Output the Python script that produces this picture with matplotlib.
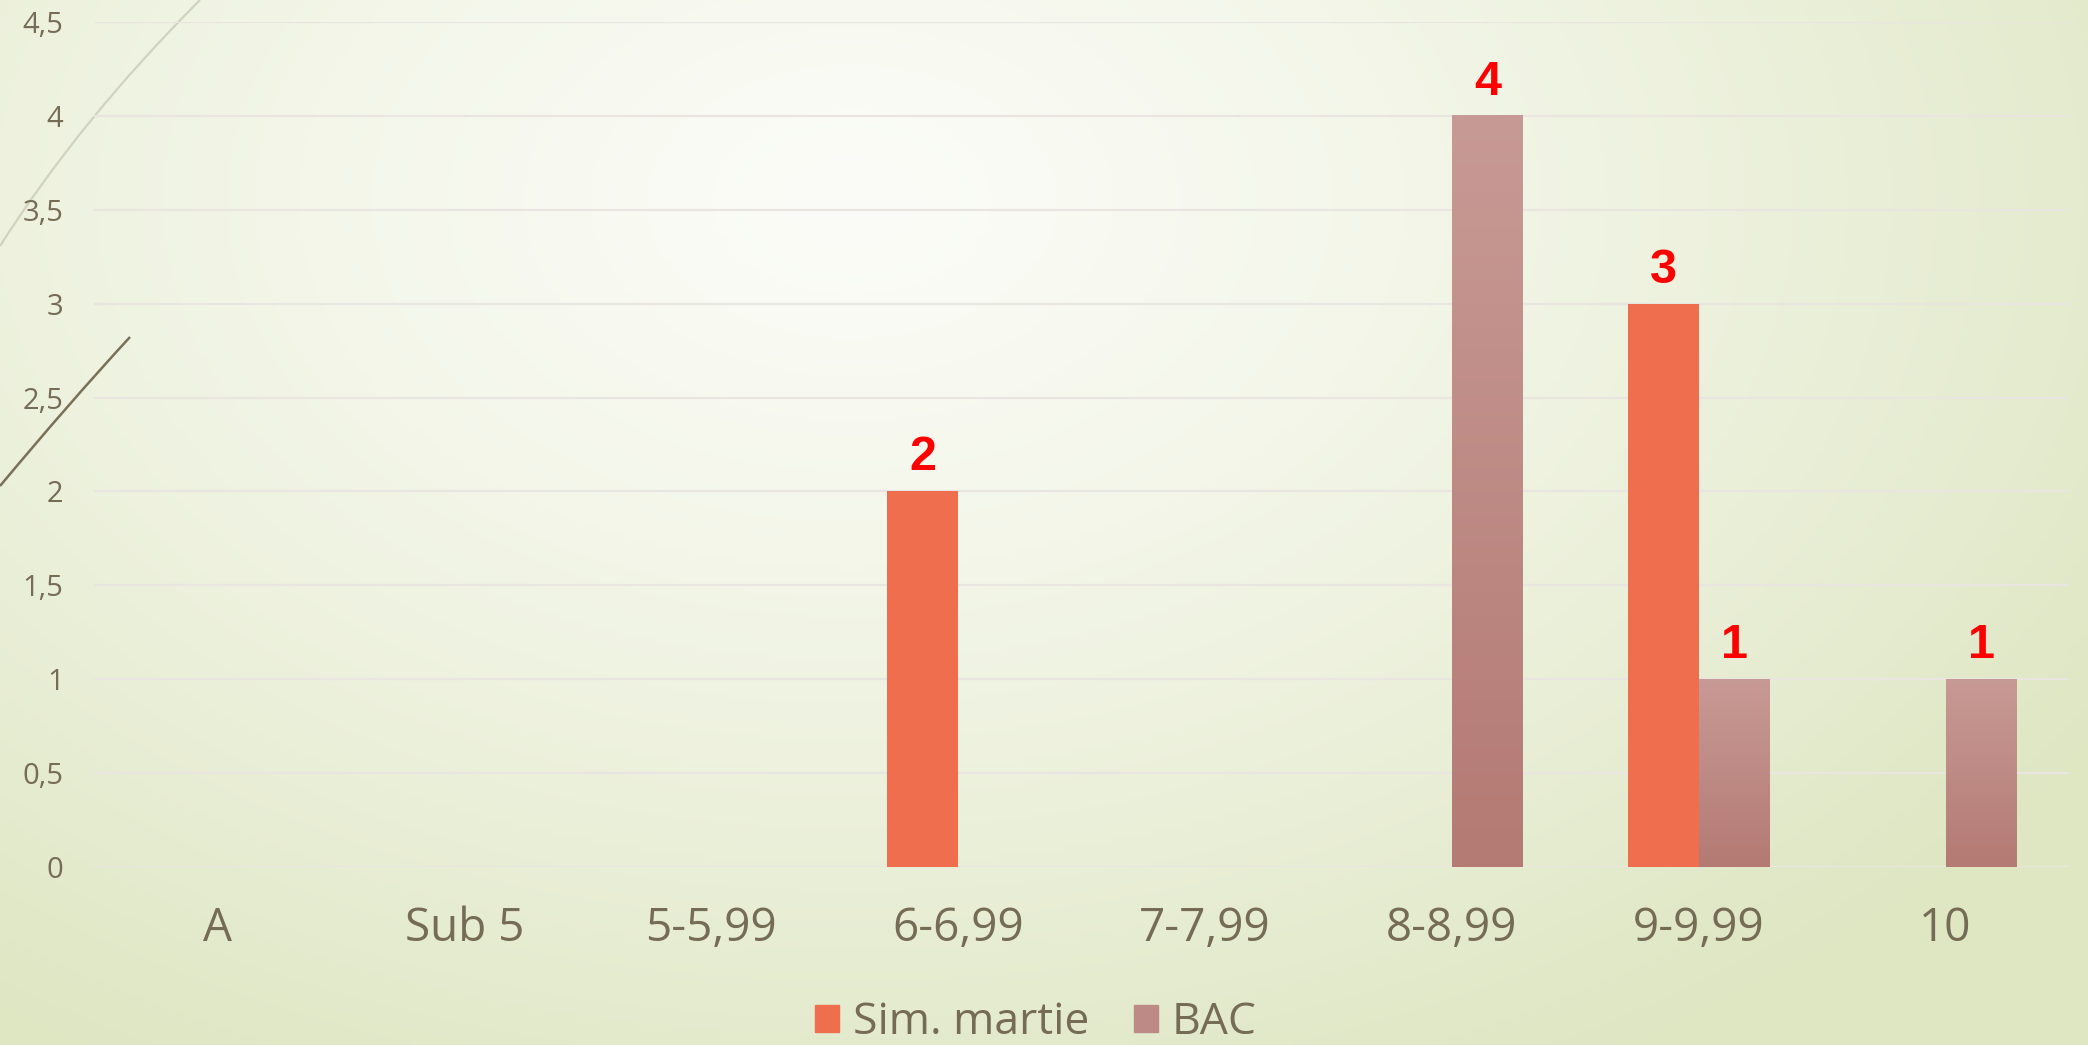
import numpy as np
import matplotlib
matplotlib.use("Agg")
import matplotlib.pyplot as plt
from matplotlib.path import Path
from matplotlib.patches import PathPatch, Patch

categories = ["A", "Sub 5", "5-5,99", "6-6,99", "7-7,99", "8-8,99", "9-9,99", "10"]
sim_martie = [0, 0, 0, 2, 0, 0, 3, 0]
bac = [0, 0, 0, 0, 0, 4, 1, 1]
yticks = [0, 0.5, 1, 1.5, 2, 2.5, 3, 3.5, 4, 4.5]
ytick_labels = ["0", "0,5", "1", "1,5", "2", "2,5", "3", "3,5", "4", "4,5"]

W, H = 2088, 1045
text_col = "#766c56"
orange = "#ee6e4d"
bac_top = np.array([200, 154, 149]) / 255
bac_bot = np.array([180, 122, 116]) / 255
font = "Open Sans"

fig = plt.figure(figsize=(W / 100, H / 100), dpi=100)

# background gradient
bg = fig.add_axes([0, 0, 1, 1], zorder=-10)
yy, xx = np.mgrid[0:H:4, 0:W:4]
d = np.sqrt(((xx - 850) / 1500) ** 2 + ((yy - 200) / 1000) ** 2)
d = np.clip(d, 0, 1) ** 1.3
light = np.array([251, 252, 247]) / 255
edge = np.array([222, 230, 194]) / 255
img = light[None, None, :] * (1 - d[..., None]) + edge[None, None, :] * d[..., None]
bg.imshow(img, extent=[0, 1, 0, 1], aspect="auto", origin="upper")
bg.axis("off")

# theme decoration curves
def curve(p0, c, p1, color, lw):
    pts = [(x / W, 1 - y / H) for x, y in (p0, c, p1)]
    path = Path(pts, [Path.MOVETO, Path.CURVE3, Path.CURVE3])
    fig.add_artist(PathPatch(path, fc="none", ec=color, lw=lw, transform=fig.transFigure, zorder=-5))

curve((0, 246), (80, 120), (200, 0), "#cfd3bf", 1.6)
curve((0, 486), (70, 402), (130, 337), "#7a7058", 1.8)

ax = fig.add_axes([94 / W, 1 - 867 / H, (2069 - 94) / W, (867 - 22) / H])
ax.patch.set_alpha(0)

x = np.arange(len(categories))
w = 0.2875
b1 = ax.bar(x - w / 2, sim_martie, w, color=orange, zorder=3)
b2 = ax.bar(x + w / 2, bac, w, color="none", zorder=3)

grad = np.linspace(0, 1, 256)[:, None, None]
grad_img = bac_top[None, None, :] * (1 - grad) + bac_bot[None, None, :] * grad
for r in b2:
    h = r.get_height()
    if h > 0:
        ax.imshow(grad_img, extent=[r.get_x(), r.get_x() + r.get_width(), 0, h],
                  aspect="auto", origin="upper", zorder=3)

for bars, vals in ((b1, sim_martie), (b2, bac)):
    for r, v in zip(bars, vals):
        if v > 0:
            ax.annotate(str(v), (r.get_x() + r.get_width() / 2, v), xytext=(0, 8),
                        textcoords="offset points", ha="center", va="bottom",
                        color="#ff0000", fontsize=35, fontweight="bold",
                        family="Liberation Sans", zorder=5)

ax.set_xlim(-0.5, len(categories) - 0.5)
ax.set_ylim(0, 4.5)
ax.set_yticks(yticks)
ax.set_yticklabels(ytick_labels)
ax.set_xticks(x)
ax.set_xticklabels(categories)
ax.tick_params(axis="y", length=0, pad=22, labelsize=21, labelcolor=text_col)
ax.tick_params(axis="x", length=0, pad=28, labelsize=33, labelcolor=text_col)
for lab in ax.get_xticklabels() + ax.get_yticklabels():
    lab.set_family(font)
ax.grid(axis="y", color="#e9e6e1", lw=1.6, zorder=0)
for s in ax.spines.values():
    s.set_visible(False)

handles = [Patch(color=orange), Patch(color=(bac_top + bac_bot) / 2)]
leg = fig.legend(handles, ["Sim. martie", "BAC"], loc="center", bbox_to_anchor=(0.496, 0.021),
                 ncol=2, frameon=False, handlelength=0.55, handleheight=0.55,
                 handletextpad=0.3, columnspacing=1.0, prop={"family": font, "size": 32})
for t in leg.get_texts():
    t.set_color(text_col)

fig.savefig("out.png", dpi=100)
